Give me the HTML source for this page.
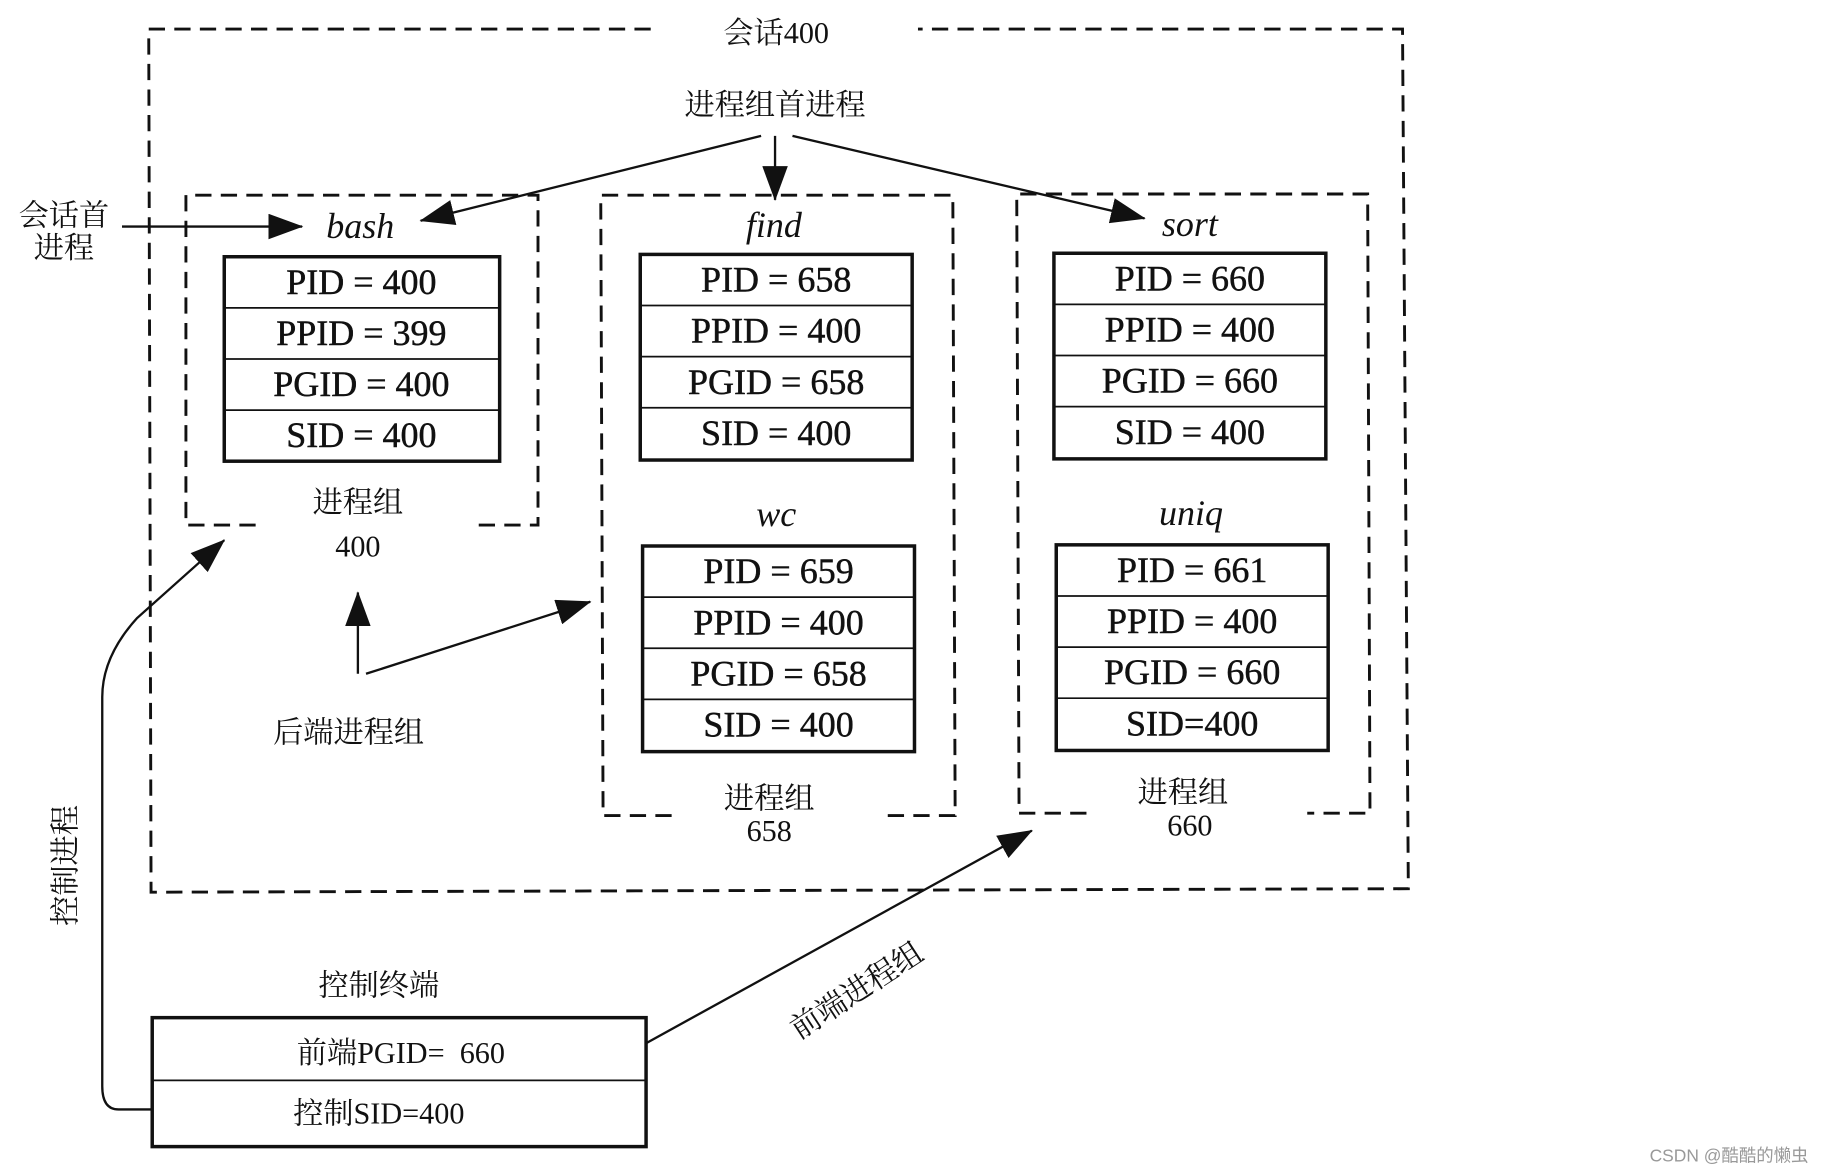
<!DOCTYPE html>
<html><head><meta charset="utf-8"><style>
html,body{margin:0;padding:0;background:#fff;}
svg{display:block;}
text{font-family:"Liberation Serif","Noto Serif CJK SC",serif;fill:#111;}
</style></head><body>
<svg width="1822" height="1171" viewBox="0 0 1568 1008" preserveAspectRatio="none" xmlns="http://www.w3.org/2000/svg">
<defs>
<marker id="b" markerWidth="30" markerHeight="22" refX="29" refY="11" orient="auto" markerUnits="userSpaceOnUse" viewBox="0 0 30 22">
<path d="M0,0 L30,11 L0,22 Z" fill="#111"/></marker>
</defs>
<g fill="none" stroke="#111" stroke-width="2.5" stroke-dasharray="14,8">
<path d="M560,25 L128,25 L130,768 L1212,765 L1207,25 L790,25"/>
<path d="M220,452 L160,452 L160,168 L463,168 L463,452 L410,452"/>
<path d="M578,702 L519,702 L517,168 L820,168 L822,702 L762,702"/>
<path d="M935,700 L877,700 L875,167 L1177,167 L1179,700 L1125,700"/>
</g>
<g fill="none" stroke="#111" stroke-width="2">
<line x1="655" y1="117" x2="362" y2="190" marker-end="url(#b)"/>
<line x1="667" y1="117" x2="667" y2="172" marker-end="url(#b)"/>
<line x1="682" y1="117" x2="985" y2="188" marker-end="url(#b)"/>
<line x1="105" y1="195" x2="260" y2="195" marker-end="url(#b)"/>
<line x1="308" y1="580" x2="308" y2="510" marker-end="url(#b)"/>
<line x1="315" y1="580" x2="508" y2="518" marker-end="url(#b)"/>
<path d="M130,955 L102,955 Q88,955 88,935 L88,600 Q88,565 118,532 L193,465" marker-end="url(#b)"/>
<line x1="556" y1="898" x2="888" y2="715" marker-end="url(#b)"/>
</g>
<g fill="none" stroke="#111" stroke-width="3">
<rect x="193" y="221" width="237" height="176"/>
<rect x="551" y="219" width="234" height="177"/>
<rect x="907" y="218" width="234" height="177"/>
<rect x="553" y="470" width="234" height="177"/>
<rect x="909" y="469" width="234" height="177"/>
<rect x="131" y="876" width="425" height="111"/>
</g>
<g stroke="#111" stroke-width="1.5">
<line x1="193" y1="265" x2="430" y2="265"/><line x1="193" y1="309" x2="430" y2="309"/><line x1="193" y1="353" x2="430" y2="353"/>
<line x1="551" y1="263" x2="785" y2="263"/><line x1="551" y1="307" x2="785" y2="307"/><line x1="551" y1="351" x2="785" y2="351"/>
<line x1="907" y1="262" x2="1141" y2="262"/><line x1="907" y1="306" x2="1141" y2="306"/><line x1="907" y1="350" x2="1141" y2="350"/>
<line x1="553" y1="514" x2="787" y2="514"/><line x1="553" y1="558" x2="787" y2="558"/><line x1="553" y1="602" x2="787" y2="602"/>
<line x1="909" y1="513" x2="1143" y2="513"/><line x1="909" y1="557" x2="1143" y2="557"/><line x1="909" y1="601" x2="1143" y2="601"/>
<line x1="131" y1="930" x2="556" y2="930"/>
</g>
<g font-size="31" text-anchor="middle" style="stroke:#111;stroke-width:0.4">
<text x="311" y="253">PID = 400</text><text x="311" y="297">PPID = 399</text><text x="311" y="341">PGID = 400</text><text x="311" y="385">SID = 400</text>
<text x="668" y="251">PID = 658</text><text x="668" y="295">PPID = 400</text><text x="668" y="339">PGID = 658</text><text x="668" y="383">SID = 400</text>
<text x="1024" y="250">PID = 660</text><text x="1024" y="294">PPID = 400</text><text x="1024" y="338">PGID = 660</text><text x="1024" y="382">SID = 400</text>
<text x="670" y="502">PID = 659</text><text x="670" y="546">PPID = 400</text><text x="670" y="590">PGID = 658</text><text x="670" y="634">SID = 400</text>
<text x="1026" y="501">PID = 661</text><text x="1026" y="545">PPID = 400</text><text x="1026" y="589">PGID = 660</text><text x="1026" y="633">SID=400</text>
</g>
<g font-size="31" font-style="italic" text-anchor="middle">
<text x="310" y="205">bash</text><text x="666" y="204">find</text><text x="1024" y="203">sort</text>
<text x="668" y="453">wc</text><text x="1025" y="452">uniq</text>
</g>
<g font-size="26" text-anchor="middle">
<text x="668" y="37">会话400</text>
<text x="667" y="99">进程组首进程</text>
<text x="55" y="194">会话首</text><text x="55" y="222">进程</text>
<text x="308" y="441">进程组</text><text x="308" y="479">400</text>
<text x="662" y="696">进程组</text><text x="662" y="724">658</text>
<text x="1018" y="691">进程组</text><text x="1024" y="719">660</text>
<text x="300" y="639">后端进程组</text>
<text x="326" y="857">控制终端</text>
<text x="345" y="915">前端PGID=&#160;&#160;660</text>
<text x="326" y="967">控制SID=400</text>
<text transform="translate(65,745) rotate(-90)">控制进程</text>
<text transform="translate(742,860) rotate(-33)">前端进程组</text>
</g>
<text x="1488" y="1000" font-size="15" text-anchor="middle" style="fill:#999;font-family:'Liberation Sans','Noto Sans CJK SC',sans-serif">CSDN @酷酷的懒虫</text>
</svg>
</body></html>
